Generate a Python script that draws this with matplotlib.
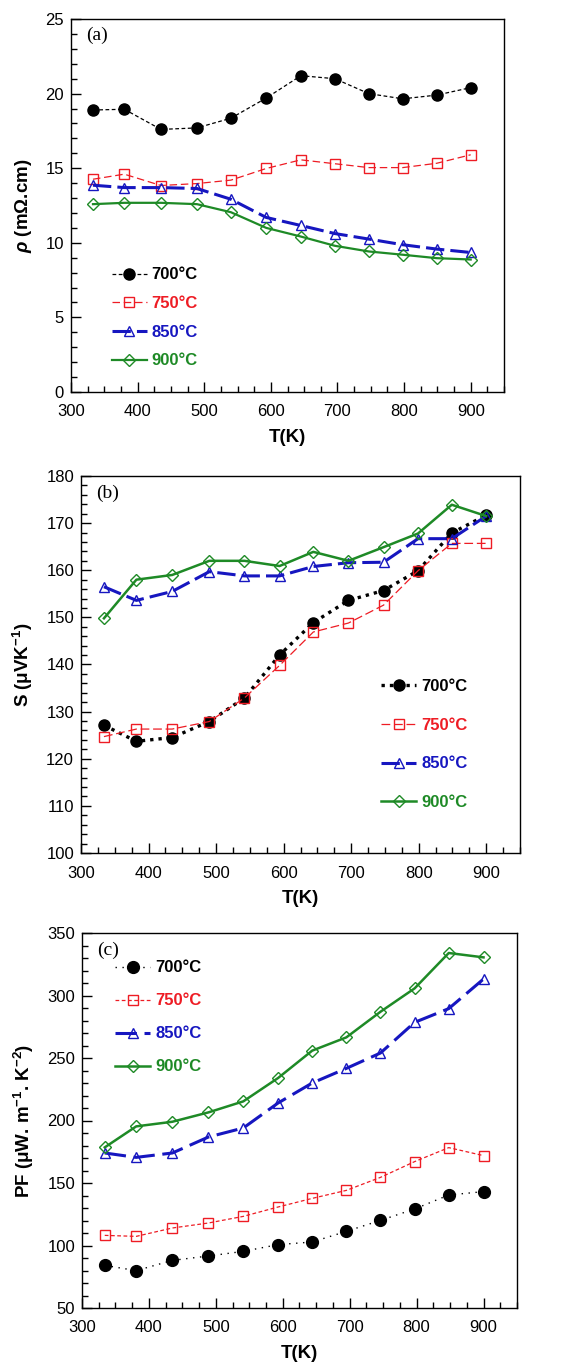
import matplotlib
matplotlib.use("Agg")
import matplotlib.pyplot as plt
from matplotlib.ticker import MultipleLocator

plt.rcParams['font.family'] = ['Liberation Sans', 'DejaVu Sans']
plt.rcParams['mathtext.fontset'] = 'custom'
plt.rcParams['mathtext.rm'] = 'Liberation Sans:bold'
plt.rcParams['mathtext.it'] = 'Liberation Sans:bold:italic'
plt.rcParams['mathtext.bf'] = 'Liberation Sans:bold'

labels = ["700°C", "750°C", "850°C", "900°C"]
colors = ["black", "#ee1c24", "#1616c0", "#1e8a26"]

# (a) resistivity
T_a = [333, 380, 435, 489, 540, 593, 645, 696, 747, 798, 849, 900]
rho_700 = [18.9, 18.95, 17.6, 17.7, 18.35, 19.7, 21.2, 21.0, 20.0, 19.65, 19.9, 20.4]
rho_750 = [14.26, 14.6, 13.84, 13.97, 14.2, 14.98, 15.56, 15.3, 15.04, 15.04, 15.33, 15.9]
rho_850 = [13.86, 13.7, 13.7, 13.64, 12.92, 11.7, 11.16, 10.62, 10.25, 9.87, 9.58, 9.35]
rho_900 = [12.59, 12.68, 12.68, 12.59, 12.05, 11.0, 10.42, 9.8, 9.42, 9.2, 8.97, 8.88]

# (b) Seebeck coefficient
T_b = [334, 382, 435, 490, 542, 594, 644, 696, 748, 799, 849, 900]
S_700 = [127.1, 123.7, 124.5, 127.9, 132.9, 142.0, 148.9, 153.6, 155.7, 159.9, 167.9, 171.7]
S_750 = [124.7, 126.3, 126.3, 127.9, 132.9, 139.8, 146.9, 148.8, 152.6, 159.9, 165.7, 165.7]
S_850 = [156.5, 153.6, 155.5, 159.7, 158.8, 158.8, 160.8, 161.6, 161.7, 166.7, 166.7, 171.5]
S_900 = [149.8, 158.0, 159.0, 162.0, 162.0, 160.9, 163.9, 162.0, 164.9, 167.8, 173.9, 171.5]

# (c) power factor
T_c = [334, 381, 435, 489, 541, 593, 644, 695, 746, 797, 848, 900]
PF_700 = [84.1, 79.9, 88.1, 91.6, 95.3, 100.7, 102.8, 111.3, 120.1, 129.2, 140.4, 143.1]
PF_750 = [108.1, 107.3, 114.0, 118.0, 123.3, 130.8, 137.7, 144.1, 154.5, 167.1, 178.3, 171.9]
PF_850 = [174.0, 170.5, 174.0, 186.8, 194.0, 214.0, 230.0, 241.7, 254.0, 278.5, 289.5, 313.2]
PF_900 = [178.5, 195.3, 199.0, 206.5, 215.3, 234.0, 255.9, 266.5, 287.0, 305.7, 334.0, 330.5]

W, H = 569, 1366
fig = plt.figure(figsize=(W / 100, H / 100), dpi=100)


def make_ax(left, right, top, bottom):
    return fig.add_axes([left / W, 1 - bottom / H, (right - left) / W, (bottom - top) / H])


def style_ax(ax, ylim, ymajor, yminor, ylabel, tag):
    ax.set_xlim(300, 950)
    ax.set_ylim(*ylim)
    ax.set_xticks(range(300, 901, 100))
    ax.xaxis.set_minor_locator(MultipleLocator(25))
    ax.yaxis.set_major_locator(MultipleLocator(ymajor))
    ax.yaxis.set_minor_locator(MultipleLocator(yminor))
    ax.tick_params(which='both', direction='in', top=False, right=False, labelsize=12, width=1)
    ax.tick_params(axis='x', which='both', pad=9)
    ax.tick_params(axis='y', which='both', pad=5)
    ax.tick_params(which='major', length=7)
    ax.tick_params(which='minor', length=4)
    for s in ax.spines.values():
        s.set_linewidth(1)
    ax.set_xlabel("T(K)", fontsize=13.5, fontweight='bold', labelpad=7)
    ax.set_ylabel(ylabel, fontsize=13.5, fontweight='bold', labelpad=8)
    ax.text(0.035, 0.955, tag, transform=ax.transAxes, fontsize=14,
            family='Liberation Serif', ha='left', va='center')


def draw(ax, T, series, styles):
    for y, lab, c, st in zip(series, labels, colors, styles):
        ls, lw, mk, ms, fill = st
        ax.plot(T, y, linestyle=ls, lw=lw, color=c, marker=mk, ms=ms,
                mfc=c if fill else 'none', mec=c, mew=1, label=lab)


def add_legend(ax, anchor, spacing):
    ax.legend(loc='upper left', bbox_to_anchor=anchor, frameon=False,
              labelcolor='linecolor', prop={'weight': 'bold', 'size': 12},
              handlelength=2.1, handletextpad=0.3, labelspacing=spacing,
              borderpad=0, borderaxespad=0)


# ---- (a)
ax1 = make_ax(71, 504, 19, 392)
draw(ax1, T_a, [rho_700, rho_750, rho_850, rho_900],
     [((0, (3, 2)), 0.9, 'o', 8, True),
      ((0, (6, 3)), 0.9, 's', 7.5, False),
      ((0, (6, 2)), 2.2, '^', 7, False),
      ('-', 1.6, 'D', 6, False)])
style_ax(ax1, (0, 25), 5, 1, r"$\rho$ (mΩ.cm)", "(a)")
add_legend(ax1, (0.094, 0.334), 0.82)

# ---- (b)
ax2 = make_ax(81, 520, 476, 853)
draw(ax2, T_b, [S_700, S_750, S_850, S_900],
     [((0, (1, 1.5)), 2.4, 'o', 8, True),
      ((0, (7, 3)), 0.9, 's', 7.5, False),
      ((0, (6, 2)), 2.2, '^', 7, False),
      ('-', 1.8, 'D', 6, False)])
style_ax(ax2, (100, 180), 10, 2, r"S (μVK$^{-1}$)", "(b)")
add_legend(ax2, (0.684, 0.4615), 1.42)

# ---- (c)
ax3 = make_ax(82, 517, 933, 1308)
draw(ax3, T_c, [PF_700, PF_750, PF_850, PF_900],
     [((0, (1, 4)), 1.0, 'o', 8.5, True),
      ((0, (3, 2)), 0.9, 's', 7.5, False),
      ((0, (7, 2.5)), 2.2, '^', 7, False),
      ('-', 1.8, 'D', 6, False)])
style_ax(ax3, (50, 350), 50, 10, r"PF (μW. m$^{-1}$. K$^{-2}$)", "(c)")
add_legend(ax3, (0.077, 0.927), 1.08)

fig.savefig("out.png", dpi=100)
